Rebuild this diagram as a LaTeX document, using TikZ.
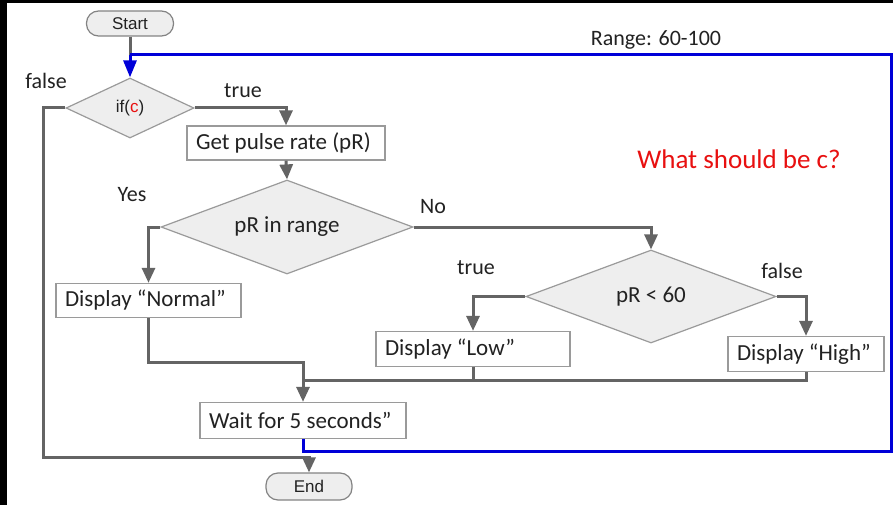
\documentclass[tikz,border=0pt]{standalone}
\usepackage{fontspec}
\setmainfont{Carlito}
\newfontfamily\arialf{Liberation Sans}
\usetikzlibrary{arrows.meta,shapes.geometric}
\definecolor{flowgray}{HTML}{646464}
\definecolor{boxgray}{HTML}{9A9A9A}
\definecolor{fillgray}{HTML}{EEEEEE}
\definecolor{loopblue}{HTML}{0000D8}
\definecolor{qred}{HTML}{E81010}
\definecolor{txt}{HTML}{222222}
\newcommand{\lbox}[2]{\makebox[#1][l]{#2}}
\tikzset{
  procbox/.style={draw=boxgray, line width=1.3pt, fill=white, inner ysep=0pt, inner xsep=9pt,
    text=txt, font=\fontsize{23}{27}\selectfont},
  decbox/.style={diamond, draw=boxgray, line width=1.2pt, fill=fillgray, inner sep=0pt,
    aspect=2, text=txt, font=\fontsize{23}{27}\selectfont},
  termbox/.style={rounded corners=12pt, draw=flowgray!80, line width=1.2pt, fill=fillgray,
    inner sep=0pt, text=txt, font=\arialf\fontsize{17}{20}\selectfont},
  flow/.style={draw=flowgray, line width=3pt},
  flowarrow/.style={flow, -{Triangle[width=13pt,length=15pt]}},
  loopline/.style={draw=loopblue, line width=3pt},
  lbl/.style={text=txt, inner sep=0pt, font=\fontsize{22}{26}\selectfont}
}
\begin{document}
\begin{tikzpicture}[x=1pt,y=-1pt]
\useasboundingbox (0,0) rectangle (893,505);
\fill[black] (0,0) rectangle (893,505);
\fill[white] (7,3) rectangle (893,505);

% nodes
\node[termbox, minimum width=87pt, minimum height=25pt] (start) at (130,23.5) {Start};
\node[decbox, minimum width=128pt, minimum height=60pt, font=\arialf\fontsize{17}{20}\selectfont] (ifc) at (130,108) {if(\textcolor{qred}{c})};
\node[procbox, minimum height=34pt] (get) at (286,143) {\lbox{180pt}{Get pulse rate (pR)}};
\node[decbox, minimum width=252pt, minimum height=94pt] (range) at (287,227) {pR in range};
\node[procbox, minimum height=34pt] (normal) at (148.5,300.5) {\lbox{167pt}{Display “Normal”}};
\node[decbox, minimum width=250pt, minimum height=93pt] (lt) at (651,296.5) {pR < 60};
\node[procbox, minimum height=35pt] (low) at (473,349) {\lbox{176pt}{Display “Low”}};
\node[procbox, minimum height=35pt] (high) at (806,354) {\lbox{138pt}{Display “High”}};
\node[procbox, minimum height=36pt] (wait) at (303,420.5) {\lbox{188pt}{Wait for 5 seconds”}};
\node[termbox, minimum width=86pt, minimum height=27pt] (end) at (309,486.5) {End};

% helper coordinates
\coordinate (join) at (130,55);
\coordinate (loopR) at (891,451);
\coordinate (fl) at (43,457);
\coordinate (mid) at (225,362);
\coordinate (mj) at (303,380);

% labels
\node[lbl] (lfalse) at (46,81) {false};
\node[lbl] (ltrue) at (243,91) {true};
\node[lbl] (lyes) at (132,195) {Yes};
\node[lbl] (lno) at (433,207) {No};
\node[lbl] (ltrue2) at (476,268) {true};
\node[lbl] (lfalse2) at (782,271) {false};
\node[lbl] (lrange) at (656,40) {Range: 60-100};
\node[lbl, text=qred, font=\fontsize{27}{32}\selectfont] (q) at (739,159) {What should be c?};

% connectors
\draw[flow] (start.south) -- (join);
\draw[loopline] (wait.south) |- (loopR) |- (join);
\draw[loopline, -{Triangle[width=13pt,length=17pt]}] (join) -- (ifc.north);
\draw[flowarrow] (ifc.east) -| (get.north);
\draw[flowarrow] (get.south) -- (range.north);
\draw[flowarrow] (range.west) -| (normal.north);
\draw[flowarrow] (range.east) -| (lt.north);
\draw[flowarrow] (lt.west) -| (low.north);
\draw[flowarrow] (lt.east) -| (high.north);
\draw[flowarrow] (normal.south) |- (mid) -| (wait.north);
\draw[flow] (high.south) |- (mj);
\draw[flow] (low.south) -- (low.south |- mj);
\draw[flowarrow] (ifc.west) -| (fl) -| (end.north);
\end{tikzpicture}
\end{document}
